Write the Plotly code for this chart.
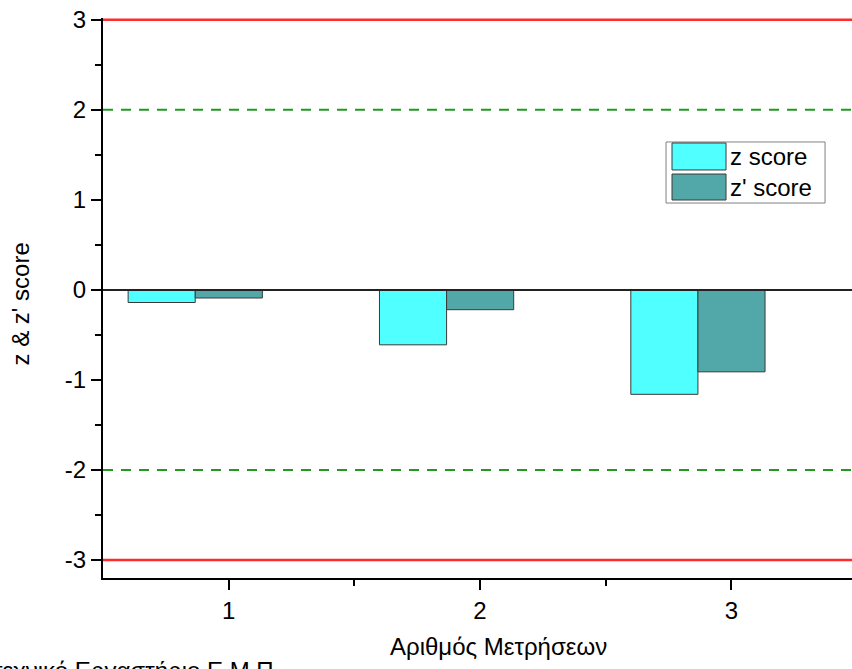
import plotly.graph_objects as go

# Measurement index and the two scores per measurement
measurements = [1, 2, 3]
z_score = [-0.14, -0.61, -1.16]
z_prime_score = [-0.09, -0.22, -0.91]

series_names = ["z score", "z' score"]
series_colors = ["#50ffff", "#52a8a8"]

# Acceptance limits
warning_limits = [2, -2]
action_limits = [3, -3]

y_ticks = [-3, -2, -1, 0, 1, 2, 3]
x_ticks = [1, 2, 3]

FONT = "Liberation Sans, Arial, sans-serif"
FS = 24

fig = go.Figure()

bar_width = 0.267
offsets = [-0.4, -0.133]
for name, vals, color, off in zip(series_names, [z_score, z_prime_score], series_colors, offsets):
    fig.add_trace(go.Bar(
        x=measurements, y=vals, name=name,
        width=bar_width, offset=off,
        marker=dict(color=color, line=dict(color="#3a3a3a", width=1)),
        showlegend=False,
    ))

shapes = []
for v in action_limits:
    shapes.append(dict(type="line", xref="paper", yref="y", x0=0, x1=1, y0=v, y1=v,
                       line=dict(color="#ff2a2a", width=2.5), layer="above"))
for v in warning_limits:
    shapes.append(dict(type="line", xref="paper", yref="y", x0=0, x1=1, y0=v, y1=v,
                       line=dict(color="#229922", width=2, dash="10px,8px"), layer="above"))
# zero reference line
shapes.append(dict(type="line", xref="paper", yref="y", x0=0, x1=1, y0=0, y1=0,
                   line=dict(color="#222222", width=2), layer="above"))

# legend box with swatches
shapes.append(dict(type="rect", xref="paper", yref="paper", x0=0.7517, x1=0.964, y0=0.6696, y1=0.7786,
                   line=dict(color="#808080", width=1), fillcolor="white", layer="above"))
swatch_y = [(0.7286, 0.7768), (0.675, 0.7214)]
for (y0, y1), color in zip(swatch_y, series_colors):
    shapes.append(dict(type="rect", xref="paper", yref="paper", x0=0.7597, x1=0.8318, y0=y0, y1=y1,
                       line=dict(color="#3a3a3a", width=1), fillcolor=color, layer="above"))

annotations = []
for (y0, y1), name in zip(swatch_y, series_names):
    annotations.append(dict(xref="paper", yref="paper", x=0.8344, y=(y0 + y1) / 2, text=name,
                            showarrow=False, xanchor="left", yanchor="middle",
                            font=dict(family=FONT, size=FS, color="black")))
annotations.append(dict(xref="paper", yref="paper", x=-0.1108, y=0.4884, text="z & z' score",
                        textangle=-90, showarrow=False, xanchor="center", yanchor="middle",
                        font=dict(family=FONT, size=FS, color="black")))
annotations.append(dict(xref="paper", yref="paper", x=0.528, y=-0.1232, text="Αριθμός Μετρήσεων",
                        showarrow=False, xanchor="center", yanchor="middle",
                        font=dict(family=FONT, size=FS, color="black")))
annotations.append(dict(xref="paper", yref="paper", x=0.239, y=-0.1643, text="τεχνικό Εργαστήριο Ε.Μ.Π.",
                        showarrow=False, xanchor="right", yanchor="middle",
                        font=dict(family=FONT, size=FS, color="black")))

fig.update_layout(
    width=852, height=669,
    margin=dict(l=103, r=0, t=18, b=91),
    paper_bgcolor="white", plot_bgcolor="white",
    barmode="overlay",
    shapes=shapes, annotations=annotations,
    font=dict(family=FONT, size=FS, color="black"),
    xaxis=dict(range=[0.5, 3.48], tickvals=x_ticks, ticktext=[str(t) for t in x_ticks],
               ticks="outside", ticklen=10, tickwidth=2, tickcolor="black",
               showline=True, linecolor="black", linewidth=2, showgrid=False, zeroline=False,
               minor=dict(tickvals=[1.5, 2.5], ticks="outside", ticklen=6, tickwidth=2, tickcolor="black"),
               tickfont=dict(family=FONT, size=FS)),
    yaxis=dict(range=[-3.2, 3.02], tickvals=y_ticks, ticktext=[str(t) for t in y_ticks],
               ticks="outside", ticklen=10, tickwidth=2, tickcolor="black",
               showline=True, linecolor="black", linewidth=2, showgrid=False, zeroline=False,
               minor=dict(tickvals=[-2.5, -1.5, -0.5, 0.5, 1.5, 2.5], ticks="outside", ticklen=6,
                          tickwidth=2, tickcolor="black"),
               tickfont=dict(family=FONT, size=FS)),
)

fig.write_html("out.html")
